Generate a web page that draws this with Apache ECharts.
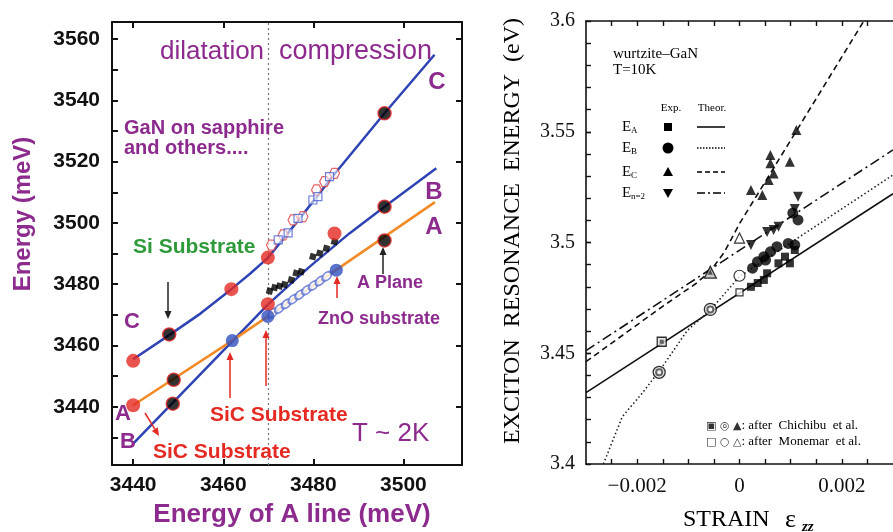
<!DOCTYPE html>
<html><head><meta charset="utf-8">
<script src="https://cdn.jsdelivr.net/npm/echarts@6/dist/echarts.min.js"></script>
<style>html,body{margin:0;padding:0;background:#fff}#c{width:893px;height:532px}</style>
</head><body><div id="c"></div>
<script>
// ---------- Left panel (meV) ----------
const leftXLabels = [3440, 3460, 3480, 3500];
const leftYLabels = [3440, 3460, 3480, 3500, 3520, 3540, 3560];
const leftYTicks = [3430, 3440, 3450, 3460, 3470, 3480, 3490, 3500, 3510, 3520, 3530, 3540, 3550, 3560];
const dividerX = 3470;
const lineC = [[3440,3455.5],[3448,3463.4],[3455,3470.5],[3461.8,3478.4],[3466,3483.5],[3469.9,3488.6],[3477,3501.5],[3484.7,3516],[3495.8,3535.8],[3506.9,3554.9]];
const lineB = [[3440,3428],[3470,3473.5],[3479,3485.5],[3488,3496.6],[3495.8,3505.3],[3507.3,3517.9]];
const lineA = [[3440,3440.5],[3462,3461.6],[3485,3484.6],[3507,3506.8]];
const redDots = [[3440,3455],[3440,3440.5],[3461.8,3478.4],[3469.9,3473.5],[3469.9,3488.7],[3484.7,3496.6]];
const blackDots = [[3448,3463.6],[3449,3448.8],[3448.8,3441],[3495.8,3535.8],[3495.8,3505.3],[3495.8,3494.3]];
const blueDots = [[3462,3461.6],[3469.9,3469.5],[3485.1,3484.6]];
const openRed = [[3470.7,3492.8],[3473.3,3496.1],[3475.5,3501.0],[3477.7,3502.1],[3480.7,3510.8],[3482.5,3513.5],[3484.7,3516.2]];
const openBlue = [[3472.2,3494.5],[3474.4,3496.8],[3476.6,3501.5],[3479.9,3507.5],[3481.0,3508.6],[3483.6,3515.1]];
const blackDiamonds = [[3470.3,3477.8],[3471.4,3478.9],[3472.5,3479.4],[3473.6,3479.9],[3475.1,3481.4],[3476.2,3483.6],[3477.3,3484.1],[3479.9,3489.0],[3481.4,3490.1],[3482.9,3491.7],[3484.7,3493.9]];
const blueBand = [[3471,3470.6],[3472.5,3472.1],[3474,3473.6],[3475.5,3475.1],[3477,3476.6],[3478.5,3478.1],[3480,3479.6],[3481.5,3481.1],[3483,3482.6]];

// ---------- Right panel (strain, eV) ----------
const rightXLabels = [-0.002, 0, 0.002];
const rightXTicks = [-0.0025,-0.002,-0.0015,-0.001,-0.0005,0,0.0005,0.001,0.0015,0.002,0.0025];
const rightYLabels = [3.4, 3.45, 3.5, 3.55, 3.6];
const rightYTicks = [3.41,3.42,3.43,3.44,3.45,3.46,3.47,3.48,3.49,3.5,3.51,3.52,3.53,3.54,3.55,3.56,3.57,3.58,3.59];
const theorA = [[-0.003,3.4322],[0.003,3.522]];
const theorB = [[-0.00266,3.4],[-0.00229,3.4214],[-0.0019,3.432],[-0.00152,3.4435],[-0.00102,3.4603],[-0.00057,3.4695],[0,3.4846],[0.003,3.5305]];
const theorC = [[-0.003,3.4462],[-0.0015,3.4712],[-0.00085,3.4815],[-0.00057,3.4871],[-0.0003,3.4955],[0,3.5085],[0.00243,3.6]];
const theorN2 = [[-0.003,3.4512],[0.003,3.5418]];
const expA = [[0.000223,3.48],[0.000356,3.4817],[0.000476,3.4831],[0.00054,3.4861],[0.000762,3.4906],[0.000889,3.4936],[0.000985,3.4906],[0.00108,3.4966]];
const expB = [[0.000255,3.4884],[0.00035,3.4913],[0.000476,3.4936],[0.000509,3.4921],[0.000604,3.4958],[0.000731,3.4981],[0.000952,3.4996],[0.00108,3.4989],[0.001042,3.5133],[0.001143,3.5102]];
const expC = [[0.000223,3.5237],[0.000446,3.5214],[0.000571,3.5282],[0.000667,3.5312],[0.000604,3.5358],[0.000604,3.5395],[0.000985,3.5365],[0.001112,3.5508]];
const expN2 = [[0.000223,3.4989],[0.00054,3.5047],[0.000667,3.5056],[0.000762,3.5071],[0.00108,3.5151],[0.001143,3.5207]];
const monemarSquare = [[0,3.4775]];
const monemarCircle = [[0,3.485]];
const monemarTriangle = [[0,3.502]];
const chichibuSquare = [[-0.00152,3.4552]];
const chichibuCircle = [[-0.00157,3.4414],[-0.00057,3.4698]];
const chichibuTriangle = [[-0.00057,3.4866]];

const SANS = "'Liberation Sans', Arial, sans-serif";
const SERIF = "'Liberation Serif', 'Times New Roman', serif";
const PURPLE = '#8c2a8e', BLUE = '#2f44b4', ORANGE = '#f28a26', RED = '#e42a22', GREEN = '#2f9a3a';

const chart = echarts.init(document.getElementById('c'), null, {renderer: 'canvas'});

function txt(x, y, text, o) {
  o = o || {};
  return {type: 'text', x: x, y: y, rotation: o.rot || 0, z: 50,
    style: {text: text, fill: o.color || '#000', fontSize: o.size || 14, fontFamily: o.family || SANS,
      fontWeight: o.weight || 'normal', fontStyle: o.style || 'normal',
      align: o.align || 'left', verticalAlign: o.va || 'middle', rich: o.rich}};
}
function arrow(x1, y1, x2, y2, color) {
  const a = Math.atan2(y2 - y1, x2 - x1), L = 8, W = 3.5;
  const bx = x2 - L * Math.cos(a), by = y2 - L * Math.sin(a);
  const px = -Math.sin(a) * W, py = Math.cos(a) * W;
  return [
    {type: 'line', z: 50, shape: {x1: x1, y1: y1, x2: bx, y2: by}, style: {stroke: color, lineWidth: 1.5}},
    {type: 'polygon', z: 50, shape: {points: [[x2, y2], [bx + px, by + py], [bx - px, by - py]]}, style: {fill: color}}
  ];
}
function lineSeg(x1, y1, x2, y2, dash) {
  return {type: 'line', z: 50, shape: {x1: x1, y1: y1, x2: x2, y2: y2}, style: {stroke: '#000', lineWidth: 1.5, lineDash: dash || null}};
}

const gfx = [];
// left panel annotations
gfx.push(txt(160, 52, 'dilatation', {color: PURPLE, size: 26}));
gfx.push(txt(279, 52, 'compression', {color: PURPLE, size: 27}));
gfx.push(txt(437, 82, 'C', {color: PURPLE, size: 24, weight: 'bold', align: 'center'}));
gfx.push(txt(124, 128, 'GaN on sapphire', {color: PURPLE, size: 20, weight: 'bold'}));
gfx.push(txt(124, 148, 'and others....', {color: PURPLE, size: 20, weight: 'bold'}));
gfx.push(txt(434, 192, 'B', {color: PURPLE, size: 24, weight: 'bold', align: 'center'}));
gfx.push(txt(434, 227, 'A', {color: PURPLE, size: 24, weight: 'bold', align: 'center'}));
gfx.push(txt(133, 247, 'Si Substrate', {color: GREEN, size: 21, weight: 'bold'}));
gfx.push(...arrow(168, 282, 168, 319, '#222'));
gfx.push(...arrow(383, 274, 383, 247, '#222'));
gfx.push(txt(357, 283, 'A Plane', {color: PURPLE, size: 18, weight: 'bold'}));
gfx.push(...arrow(337, 298, 337, 276, RED));
gfx.push(txt(318, 319, 'ZnO substrate', {color: PURPLE, size: 18, weight: 'bold'}));
gfx.push(...arrow(230, 398, 230, 352, RED));
gfx.push(...arrow(266, 386, 266, 330, RED));
gfx.push(txt(210, 415, 'SiC Substrate', {color: RED, size: 21, weight: 'bold'}));
gfx.push(txt(352, 434, 'T ~ 2K', {color: PURPLE, size: 26}));
gfx.push(txt(153, 452, 'SiC Substrate', {color: RED, size: 21, weight: 'bold'}));
gfx.push(...arrow(145, 413, 159, 436, RED));
gfx.push(txt(132, 322, 'C', {color: PURPLE, size: 22, weight: 'bold', align: 'center'}));
gfx.push(txt(123, 414, 'A', {color: PURPLE, size: 22, weight: 'bold', align: 'center'}));
gfx.push(txt(128, 442, 'B', {color: PURPLE, size: 22, weight: 'bold', align: 'center'}));
// left axis titles
gfx.push(txt(23, 214, 'Energy (meV)', {color: PURPLE, size: 24, weight: 'bold', align: 'center', rot: Math.PI / 2}));
gfx.push(txt(292, 515, 'Energy of A line (meV)', {color: PURPLE, size: 26, weight: 'bold', align: 'center'}));

// right panel titles
gfx.push(txt(513, 231, 'EXCITON  RESONANCE  ENERGY  (eV)', {family: SERIF, size: 24, align: 'center', rot: Math.PI / 2}));
gfx.push(txt(683, 520, 'STRAIN', {family: SERIF, size: 24}));
gfx.push(txt(785, 520, 'ε', {family: SERIF, size: 26}));
gfx.push(txt(802, 527, 'zz', {family: SERIF, size: 15, style: 'italic', weight: 'bold'}));
// right panel in-plot texts
gfx.push(txt(613, 54, 'wurtzite–GaN', {family: SERIF, size: 15}));
gfx.push(txt(613, 70, 'T=10K', {family: SERIF, size: 15}));
gfx.push(txt(671, 108, 'Exp.', {family: SERIF, size: 11, align: 'center'}));
gfx.push(txt(712, 108, 'Theor.', {family: SERIF, size: 11, align: 'center'}));
const legRows = [[127, 'A'], [148, 'B'], [172, 'C'], [193, 'n=2']];
legRows.forEach(function (r) {
  gfx.push(txt(622, r[0], 'E', {family: SERIF, size: 15}));
  gfx.push(txt(631, r[0] + 4, r[1], {family: SERIF, size: 9}));
});
gfx.push({type: 'rect', z: 50, shape: {x: 664, y: 123, width: 8, height: 8}, style: {fill: '#000'}});
gfx.push({type: 'circle', z: 50, shape: {cx: 668, cy: 148, r: 5.5}, style: {fill: '#000'}});
gfx.push({type: 'polygon', z: 50, shape: {points: [[668, 167], [673, 176], [663, 176]]}, style: {fill: '#000'}});
gfx.push({type: 'polygon', z: 50, shape: {points: [[663, 189], [673, 189], [668, 198]]}, style: {fill: '#000'}});
gfx.push(lineSeg(697, 127, 725, 127));
gfx.push(lineSeg(697, 148, 725, 148, [1.5, 1.5]));
gfx.push(lineSeg(697, 172, 725, 172, [5, 3]));
gfx.push(lineSeg(697, 193, 725, 193, [8, 3, 2, 3]));
gfx.push(txt(706, 426, '{s|▣ ◎ ▲}: after  Chichibu  et al.', {family: SERIF, size: 13,
  rich: {s: {fontFamily: 'DejaVu Sans', fontSize: 11, fill: '#333'}}}));
gfx.push(txt(706, 442, '{s|□ ○ △}: after  Monemar  et al.', {family: SERIF, size: 13,
  rich: {s: {fontFamily: 'DejaVu Sans', fontSize: 11, fill: '#333'}}}));

const hexPath = 'path://M4,0 L12,0 L16,7 L12,14 L4,14 L0,7 Z';

function leftAxisCommon() {
  return {type: 'value', gridIndex: 0, splitLine: {show: false},
    axisLine: {show: true, onZero: false, lineStyle: {color: '#111', width: 2}},
    axisTick: {show: true, inside: true, length: 6, lineStyle: {color: '#111', width: 2}}};
}
function rightAxisCommon() {
  return {type: 'value', gridIndex: 1, splitLine: {show: false},
    axisLine: {show: true, onZero: false, lineStyle: {color: '#111', width: 1.6}},
    axisTick: {show: true, inside: true, length: 5, lineStyle: {color: '#111', width: 1.4}}};
}
const plain = function (v) { return String(v); };

const xL = leftAxisCommon();
Object.assign(xL, {position: 'bottom', min: 3435.3, max: 3513,
  axisLabel: {customValues: leftXLabels, formatter: plain, margin: 10, color: '#111', fontSize: 21, fontWeight: 'bold', fontFamily: SANS}});
xL.axisTick.customValues = leftXLabels;
const xLt = leftAxisCommon();
Object.assign(xLt, {position: 'top', min: 3435.3, max: 3513, axisLabel: {show: false}});
xLt.axisTick.customValues = leftXLabels;
const yL = leftAxisCommon();
Object.assign(yL, {position: 'left', min: 3421, max: 3565.6,
  axisLabel: {customValues: leftYLabels, formatter: plain, margin: 12, color: '#111', fontSize: 21, fontWeight: 'bold', fontFamily: SANS}});
yL.axisTick.customValues = leftYTicks;
const yLr = leftAxisCommon();
Object.assign(yLr, {position: 'right', min: 3421, max: 3565.6, axisLabel: {show: false}});
yLr.axisTick.customValues = leftYLabels;

const xR = rightAxisCommon();
Object.assign(xR, {position: 'bottom', min: -0.003, max: 0.003,
  axisLabel: {customValues: rightXLabels, margin: 12, color: '#111', fontSize: 21, fontFamily: SERIF,
    formatter: function (v) { return Math.abs(v) < 1e-9 ? '0' : (v < 0 ? '\u2212' : '') + Math.abs(v).toFixed(3); }}});
xR.axisTick.customValues = rightXTicks;
const xRt = rightAxisCommon();
Object.assign(xRt, {position: 'top', min: -0.003, max: 0.003, axisLabel: {show: false}});
xRt.axisTick.customValues = rightXTicks;
const yR = rightAxisCommon();
Object.assign(yR, {position: 'left', min: 3.4, max: 3.6,
  axisLabel: {customValues: rightYLabels, margin: 11, color: '#111', fontSize: 20, fontFamily: SERIF,
    formatter: function (v) { return String(Math.round(v * 100) / 100); }}});
yR.axisTick.customValues = rightYTicks.concat(rightYLabels);

function sc(data, xi, yi, o) {
  return Object.assign({type: 'scatter', xAxisIndex: xi, yAxisIndex: yi, data: data, silent: true, z: 5}, o);
}
function ln(data, xi, yi, color, width, type) {
  return {type: 'line', xAxisIndex: xi, yAxisIndex: yi, data: data, symbol: 'none', silent: true,
    smooth: false, z: 3, lineStyle: {color: color, width: width, type: type || 'solid'}};
}

const lineAseries = ln(lineA, 0, 0, ORANGE, 2.5);
lineAseries.markLine = {silent: true, symbol: ['none', 'none'], label: {show: false},
  lineStyle: {type: [2, 3], color: '#777', width: 1.2}, data: [{xAxis: dividerX}]};

const option = {
  animation: false,
  backgroundColor: '#fff',
  grid: [
    {left: 112, top: 22, width: 350, height: 443, show: false},
    {left: 586, top: 21, width: 315, height: 443, show: false}
  ],
  xAxis: [xL, xLt, xR, xRt],
  yAxis: [yL, yLr, yR],
  graphic: gfx,
  series: [
    ln(lineC, 0, 0, BLUE, 2.5),
    ln(lineB, 0, 0, BLUE, 2.5),
    lineAseries,
    sc(blueBand, 0, 0, {symbol: 'emptyCircle', symbolSize: [11, 7], symbolRotate: 45, itemStyle: {color: '#5a6fd0', borderColor: '#5a6fd0', borderWidth: 1}}),
    sc(openRed, 0, 0, {symbol: hexPath, symbolSize: 10, itemStyle: {color: 'rgba(255,255,255,0.7)', borderColor: '#e04040', borderWidth: 1.2}}),
    sc(openBlue, 0, 0, {symbol: 'rect', symbolSize: 8, itemStyle: {color: 'rgba(255,255,255,0.7)', borderColor: '#4a5fd0', borderWidth: 1.2}}),
    sc(blackDiamonds, 0, 0, {symbol: 'diamond', symbolSize: 9, symbolRotate: 30, itemStyle: {color: '#000'}}),
    sc(redDots, 0, 0, {symbol: 'circle', symbolSize: 14, itemStyle: {color: RED}}),
    sc(blackDots, 0, 0, {symbol: 'circle', symbolSize: 13, itemStyle: {color: '#000', borderColor: '#d22', borderWidth: 1.5}}),
    sc(blueDots, 0, 0, {symbol: 'circle', symbolSize: 13, itemStyle: {color: '#3050c0'}}),

    ln(theorA, 2, 2, '#111', 1.6),
    ln(theorB, 2, 2, '#222', 1.6, [1.5, 2.5]),
    ln(theorC, 2, 2, '#111', 1.6, [6, 4]),
    ln(theorN2, 2, 2, '#111', 1.6, [10, 4, 2, 4]),
    sc(expA, 2, 2, {symbol: 'rect', symbolSize: 8, itemStyle: {color: '#000'}}),
    sc(expB, 2, 2, {symbol: 'circle', symbolSize: 11, itemStyle: {color: '#000'}}),
    sc(expC, 2, 2, {symbol: 'triangle', symbolSize: 10, itemStyle: {color: '#000'}}),
    sc(expN2, 2, 2, {symbol: 'triangle', symbolSize: 10, symbolRotate: 180, itemStyle: {color: '#000'}}),
    sc(monemarSquare, 2, 2, {symbol: 'rect', symbolSize: 7, itemStyle: {color: '#fff', borderColor: '#000', borderWidth: 1.2}}),
    sc(monemarCircle, 2, 2, {symbol: 'circle', symbolSize: 11, itemStyle: {color: '#fff', borderColor: '#000', borderWidth: 1.2}}),
    sc(monemarTriangle, 2, 2, {symbol: 'triangle', symbolSize: 10, itemStyle: {color: '#fff', borderColor: '#000', borderWidth: 1.2}}),
    sc(chichibuSquare, 2, 2, {symbol: 'rect', symbolSize: 9, itemStyle: {color: '#ddd', borderColor: '#000', borderWidth: 1.3}}),
    sc(chichibuSquare, 2, 2, {symbol: 'rect', symbolSize: 4, z: 6, itemStyle: {color: '#444'}}),
    sc(chichibuCircle, 2, 2, {symbol: 'circle', symbolSize: 12, itemStyle: {color: '#ddd', borderColor: '#000', borderWidth: 1.3}}),
    sc(chichibuCircle, 2, 2, {symbol: 'emptyCircle', symbolSize: 6, z: 6, itemStyle: {color: '#444', borderColor: '#444', borderWidth: 1}}),
    sc(chichibuTriangle, 2, 2, {symbol: 'triangle', symbolSize: 12, itemStyle: {color: '#bbb', borderColor: '#000', borderWidth: 1.3}}),
    sc(chichibuTriangle, 2, 2, {symbol: 'triangle', symbolSize: 5, z: 6, itemStyle: {color: '#333'}})
  ]
};
chart.setOption(option);
</script>
</body></html>
